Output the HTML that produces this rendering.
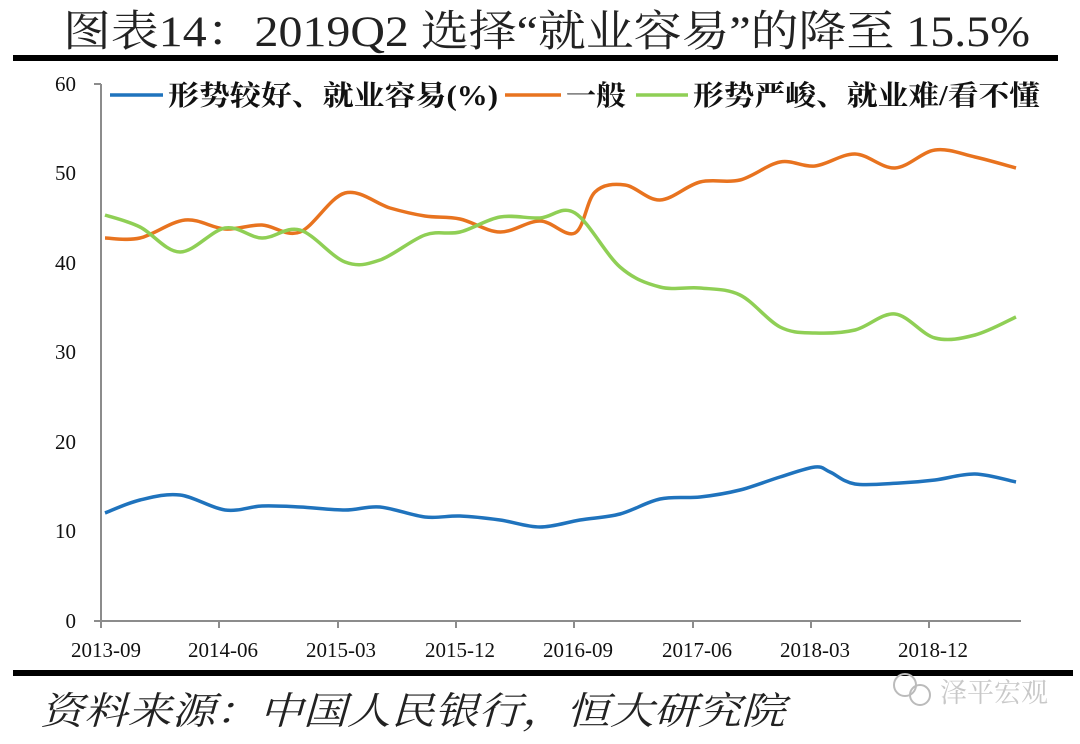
<!DOCTYPE html>
<html><head><meta charset="utf-8"><style>
body{margin:0;background:#fff;}
svg text{font-family:"Liberation Serif","Noto Serif CJK SC",serif;}
</style></head><body>
<svg width="1080" height="739" xmlns="http://www.w3.org/2000/svg">
<rect width="1080" height="739" fill="#fff"/>
<text x="63" y="46" font-size="43" textLength="967" lengthAdjust="spacingAndGlyphs" fill="#222" font-family="Liberation Serif, Noto Serif CJK SC, serif">图表14：2019Q2 选择“就业容易”的降至 15.5%</text>
<rect x="13" y="55" width="1045" height="6" fill="#000"/>
<rect x="13" y="670" width="1060" height="6" fill="#000"/>
<g stroke="#8c8c8c" stroke-width="2" fill="none">
<line x1="101" y1="84" x2="101" y2="621"/>
<line x1="94" y1="84" x2="101" y2="84"/>
<line x1="94" y1="621" x2="1021" y2="621"/>
<line x1="219" y1="621" x2="219" y2="628"/><line x1="338" y1="621" x2="338" y2="628"/>
<line x1="456" y1="621" x2="456" y2="628"/><line x1="574" y1="621" x2="574" y2="628"/>
<line x1="693" y1="621" x2="693" y2="628"/><line x1="811" y1="621" x2="811" y2="628"/>
<line x1="929" y1="621" x2="929" y2="628"/><line x1="101" y1="621" x2="101" y2="628"/>
</g>
<g font-size="21" fill="#111" text-anchor="end">
<text x="76" y="91">60</text><text x="76" y="180">50</text><text x="76" y="270">40</text>
<text x="76" y="359">30</text><text x="76" y="449">20</text><text x="76" y="538">10</text><text x="76" y="628">0</text>
</g>
<g font-size="21" fill="#111" text-anchor="middle">
<text x="106" y="657">2013-09</text><text x="223" y="657">2014-06</text><text x="341" y="657">2015-03</text>
<text x="460" y="657">2015-12</text><text x="578" y="657">2016-09</text><text x="697" y="657">2017-06</text>
<text x="815" y="657">2018-03</text><text x="933" y="657">2018-12</text>
</g>
<path id="b" fill="none" stroke="#1f73bd" stroke-width="3.5"/>
<path id="o" fill="none" stroke="#e8731f" stroke-width="3.5"/>
<path id="g" fill="none" stroke="#8fcf55" stroke-width="3.5"/>
<g font-size="28" font-weight="bold" fill="#111" font-family="Liberation Serif, Noto Serif CJK SC, serif">
<line x1="110" y1="95" x2="163" y2="95" stroke="#1f73bd" stroke-width="3.5"/>
<text x="168" y="105" textLength="330" lengthAdjust="spacingAndGlyphs">形势较好、就业容易(%)</text>
<line x1="505" y1="95" x2="561" y2="95" stroke="#e8731f" stroke-width="3.5"/>
<text x="566" y="105" textLength="60" lengthAdjust="spacingAndGlyphs">一般</text>
<line x1="636" y1="95" x2="688" y2="95" stroke="#8fcf55" stroke-width="3.5"/>
<text x="693" y="105" textLength="347" lengthAdjust="spacingAndGlyphs">形势严峻、就业难/看不懂</text>
</g>
<text x="40" y="724" font-size="38" textLength="745" lengthAdjust="spacingAndGlyphs" font-style="italic" fill="#222" font-family="Liberation Serif, Noto Sans CJK SC, sans-serif">资料来源：中国人民银行，恒大研究院</text>
<circle cx="905" cy="685" r="11" fill="none" stroke="#bbb" stroke-width="2"/>
<circle cx="920" cy="695" r="10" fill="none" stroke="#bbb" stroke-width="2"/>
<text x="940" y="702" font-size="27" fill="#c8c8c8" font-family="Liberation Sans, Noto Sans CJK SC, sans-serif">泽平宏观</text>
</svg>
<script>
function cr(p){let d="M"+p[0][0]+","+p[0][1];for(let i=0;i<p.length-1;i++){const p0=p[i-1]||p[i],p1=p[i],p2=p[i+1],p3=p[i+2]||p2;const c1=[p1[0]+(p2[0]-p0[0])/6,p1[1]+(p2[1]-p0[1])/6],c2=[p2[0]-(p3[0]-p1[0])/6,p2[1]-(p3[1]-p1[1])/6];d+="C"+c1+" "+c2+" "+p2;}return d;}
const B=[[105,513],[140,500],[180,495],[225,510],[262,506],[300,507],[345,510],[380,507],[425,517],[460,516],[500,520],[540,527],[580,520],[620,514],[660,499],[700,497],[740,490],[780,477],[815,467],[830,472],[855,484],[900,483],[935,480],[975,474],[1016,482]];
const O=[[105,238],[140,238],[185,220],[225,229],[262,225],[300,232],[345,193],[390,208],[425,216],[460,219],[500,232],[540,221],[575,233],[595,192],[625,185],[660,200],[700,182],[740,180],[780,162],[815,166],[855,154],[895,168],[935,150],[975,157],[1016,168]];
const G=[[105,215],[140,227],[180,252],[225,228],[262,238],[300,230],[345,262],[380,260],[425,235],[460,232],[500,217],[540,218],[575,213],[620,267],[660,287],[700,288],[740,295],[780,327],[815,333],[855,330],[895,314],[935,338],[975,335],[1016,317]];
document.getElementById("b").setAttribute("d",cr(B));
document.getElementById("o").setAttribute("d",cr(O));
document.getElementById("g").setAttribute("d",cr(G));
</script>
</body></html>
